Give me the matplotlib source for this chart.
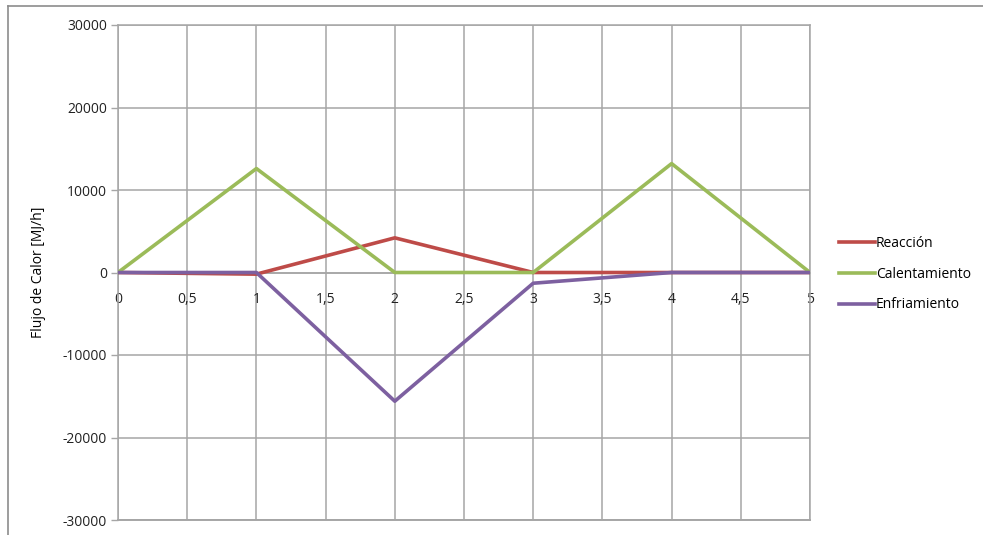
import matplotlib.pyplot as plt
from matplotlib.lines import Line2D

# Datos de flujo de calor por etapa
tiempo = [0, 1, 2, 3, 4, 5]
reaccion = [0, -200, 4200, 0, 0, 0]
calentamiento = [0, 12600, 0, 0, 13200, 0]
enfriamiento = [0, 0, -15600, -1300, 0, 0]

x_ticks = [0, 0.5, 1, 1.5, 2, 2.5, 3, 3.5, 4, 4.5, 5]
y_ticks = [-30000, -20000, -10000, 0, 10000, 20000, 30000]

plt.rcParams['font.family'] = ['Open Sans', 'DejaVu Sans']
grid_color = '#A6A6A6'

fig = plt.figure(figsize=(9.83, 5.35), dpi=100)
ax = fig.add_axes([118 / 983, 1 - 520 / 535, (810 - 118) / 983, (520 - 25) / 535])

ax.plot(tiempo, reaccion, color='#BE4B48', lw=2.6, label='Reacción', zorder=3)
ax.plot(tiempo, calentamiento, color='#9BBB59', lw=2.6, label='Calentamiento', zorder=3)
ax.plot(tiempo, enfriamiento, color='#7D60A0', lw=2.6, label='Enfriamiento', zorder=3)

ax.set_xlim(0, 5)
ax.set_ylim(-30000, 30000)
ax.set_xticks(x_ticks)
ax.set_xticklabels([str(t).replace('.', ',') if t != int(t) else str(int(t)) for t in x_ticks])
ax.set_yticks(y_ticks)
ax.set_yticklabels([str(v) for v in y_ticks])
ax.grid(True, color=grid_color, lw=1.1)
ax.set_axisbelow(True)

# eje x cruzando en cero
for s in ['top', 'right', 'left']:
    ax.spines[s].set_color(grid_color)
    ax.spines[s].set_linewidth(1.1)
ax.spines['bottom'].set_position(('data', 0))
ax.spines['bottom'].set_color(grid_color)
ax.spines['bottom'].set_linewidth(1.1)
ax.plot([0, 5], [-30000, -30000], color=grid_color, lw=1.4, clip_on=False, zorder=1)

ax.tick_params(axis='x', length=0, pad=14, labelsize=10, colors='#222222')
ax.tick_params(axis='y', length=5, width=1, color=grid_color, pad=3, labelsize=10, labelcolor='#222222')
ax.set_ylabel('Flujo de Calor [MJ/h]', fontsize=10, labelpad=12)

ax.legend(loc='center left', bbox_to_anchor=(826 / 983, 1 - 274 / 535), bbox_transform=fig.transFigure,
          frameon=False, fontsize=10, handlelength=2.6, handletextpad=0.1, labelspacing=1.15)

# borde del gráfico
fig.add_artist(Line2D([8 / 983, 8 / 983], [0, 1 - 6 / 535], color='#8C8C8C', lw=1.2))
fig.add_artist(Line2D([8 / 983, 1], [1 - 6 / 535, 1 - 6 / 535], color='#8C8C8C', lw=1.2))

fig.savefig('out.png', dpi=100)
